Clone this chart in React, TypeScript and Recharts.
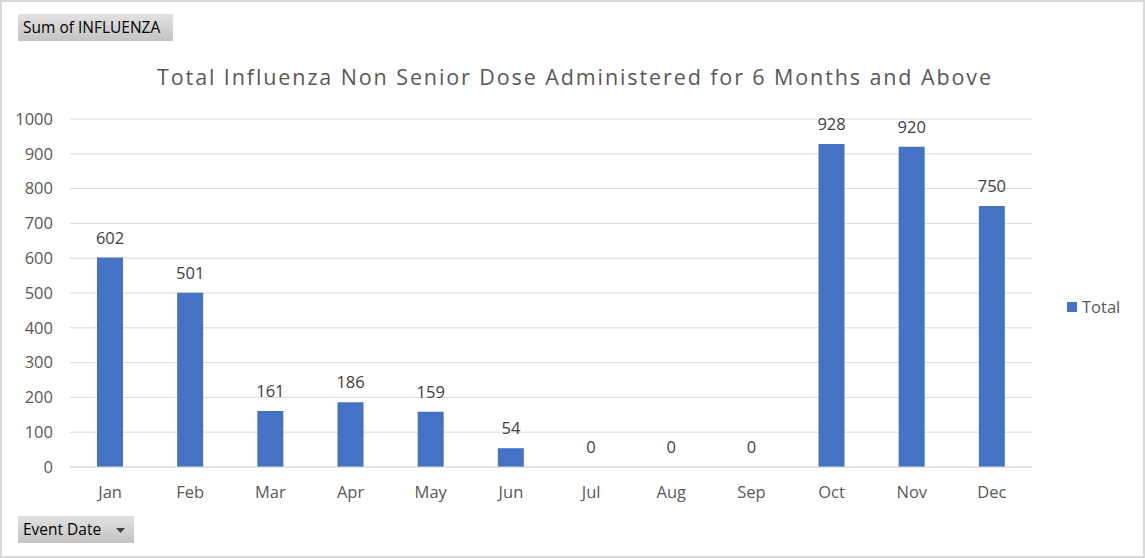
import React from 'react';
import { ComposedChart, Bar, Line, XAxis, YAxis, CartesianGrid, LabelList } from 'recharts';

const months = ['Jan', 'Feb', 'Mar', 'Apr', 'May', 'Jun', 'Jul', 'Aug', 'Sep', 'Oct', 'Nov', 'Dec'];
const totals = [602, 501, 161, 186, 159, 54, 0, 0, 0, 928, 920, 750];
const yTicks = [0, 100, 200, 300, 400, 500, 600, 700, 800, 900, 1000];

const data = months.map((m, i) => ({ month: m, Total: totals[i] }));

const FONT = '"Open Sans", "Noto Sans", sans-serif';

const btnStyle: React.CSSProperties = {
  position: 'absolute',
  background: 'linear-gradient(#e2e2e2, #c3c3c3)',
  fontFamily: FONT,
  fontSize: 15.5,
  color: '#000',
  boxSizing: 'border-box',
  paddingLeft: 5,
  lineHeight: '27px',
  height: 27,
  whiteSpace: 'nowrap',
};

export default function App() {
  return (
    <div style={{ position: 'absolute', left: 0, top: 0, width: 1145, height: 558, background: '#fff', boxSizing: 'border-box', border: '2px solid #d9d9d9' }}>
      <div style={{ position: 'absolute', left: -2, top: -2, width: 1145, height: 558 }}>
        <ComposedChart width={1145} height={558} data={data} margin={{ top: 119, right: 113, bottom: 61, left: 0 }}>
          <CartesianGrid vertical={false} stroke="#d9d9d9" />
          <XAxis
            dataKey="month"
            axisLine={{ stroke: '#d9d9d9' }}
            tickLine={false}
            tickMargin={13}
            tick={{ fill: '#595959', fontSize: 16.5, fontFamily: FONT }}
          />
          <YAxis
            width={70}
            domain={[0, 1000]}
            ticks={yTicks}
            axisLine={false}
            tickLine={false}
            tickSize={0}
            tickMargin={17}
            tick={{ fill: '#595959', fontSize: 16.5, fontFamily: FONT }}
          />
          <Bar dataKey="Total" fill="#4472c4" barSize={26} isAnimationActive={false} />
          <Line dataKey="Total" stroke="none" dot={false} activeDot={false} isAnimationActive={false}>
            <LabelList dataKey="Total" position="top" offset={14} fill="#404040" fontSize={16.5} fontFamily={FONT} />
          </Line>
        </ComposedChart>
      </div>
      <div style={{ position: 'absolute', left: 155, top: 60, whiteSpace: 'nowrap', fontFamily: FONT, fontSize: 21.5, letterSpacing: 1.9, color: '#595959', lineHeight: '30px' }}>
        Total Influenza Non Senior Dose Administered for 6 Months and Above
      </div>
      <div style={{ ...btnStyle, left: 16, top: 12, width: 155 }}>Sum of INFLUENZA</div>
      <div style={{ ...btnStyle, left: 16, top: 514, width: 116 }}>
        Event Date
        <svg width="10" height="6" style={{ position: 'absolute', left: 98, top: 12 }}>
          <polygon points="0,0 9,0 4.5,5" fill="#404040" />
        </svg>
      </div>
      <div style={{ position: 'absolute', left: 1065, top: 293, display: 'flex', alignItems: 'center', fontFamily: FONT, fontSize: 16.5, color: '#595959' }}>
        <div style={{ width: 10, height: 10, background: '#4472c4', marginRight: 5 }} />
        <span>Total</span>
      </div>
    </div>
  );
}
